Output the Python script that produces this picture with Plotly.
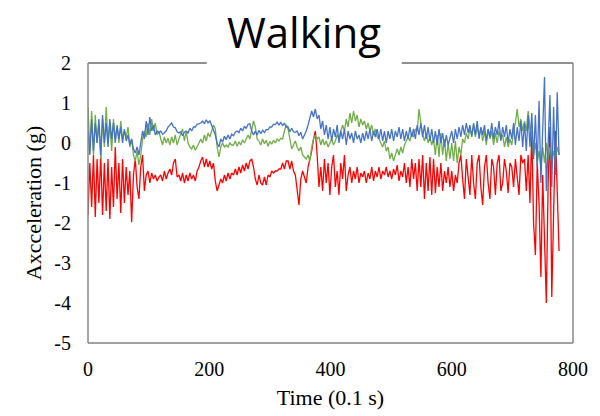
import plotly.graph_objects as go

time = list(range(0, 780, 3))

red = [
    -1.8, -0.5, -1.6, -0.3, -1.85, -0.4, -1.5, -0.3, -1.8, -0.5,
    -1.7, -0.4, -1.9, -0.6, -1.6, -0.1, -1.4, -0.5, -1.75, -0.4,
    -1.5, -0.6, -1.3, -0.7, -1.98, -0.8, -0.4, -1.1, -1.4, -0.6,
    -0.3, -1.2, -0.8, -0.7, -1.0, -0.75, -0.9, -0.8, -0.95, -0.85,
    -0.8, -0.95, -0.7, -0.9, -0.75, -0.65, -0.8, -0.5, -0.4, -0.85,
    -0.8, -0.95, -0.75, -1.0, -0.8, -0.95, -0.75, -0.9, -0.8, -0.95,
    -0.7, -0.6, -0.45, -0.35, -0.6, -0.4, -0.6, -0.45, -0.65, -0.5,
    -0.95, -1.2, -1.05, -0.9, -1.0, -0.8, -0.95, -0.75, -0.9, -0.75,
    -0.8, -0.65, -0.8, -0.6, -0.75, -0.55, -0.7, -0.5, -0.65, -0.45,
    -0.4, -0.6, -0.9, -1.05, -0.8, -1.0, -1.05, -0.85, -1.05, -0.8,
    -0.85, -0.7, -0.75, -0.7, -0.7, -0.65, -0.65, -0.5, -0.65, -0.45,
    -0.45, -0.65, -0.45, -0.7, -0.8, -1.2, -1.55, -0.9, -0.7, -0.85,
    -1.0, -0.6, -0.4, -0.2, 0.1, 0.3, -0.3, -1.1, -0.6, -1.2,
    -0.4, -1.0, -0.5, -1.3, -0.6, -0.3, -1.1, -0.7, -1.3, -0.5,
    -0.9, -0.3, -1.2, -0.8, -0.6, -1.0, -0.7, -0.9, -0.6, -1.0,
    -0.75, -0.85, -0.7, -1.0, -0.75, -0.9, -0.6, -0.95, -0.7, -0.85,
    -0.6, -0.9, -0.7, -0.8, -0.6, -0.85, -0.7, -0.9, -0.65, -0.8,
    -0.55, -0.95, -0.7, -0.85, -0.5, -1.0, -0.6, -1.1, -0.4, -0.9,
    -0.5, -1.2, -0.4, -1.1, -0.3, -1.4, -0.5, -1.2, -0.35, -1.3,
    -0.4, -1.25, -0.6, -1.1, -0.5, -1.2, -0.7, -1.0, -0.6, -1.1,
    -0.7, -1.2, -0.8, -1.0, -0.5, -0.3, -0.9, -1.4, -0.4, -0.9,
    -1.3, -0.3, -1.0, -1.4, -0.5, -0.3, -1.1, -1.55, -0.6, -0.3,
    -1.0, -1.4, -0.4, -0.6, -1.3, -0.5, -0.3, -1.2, -1.0, -0.4,
    -0.7, -1.25, -0.5, -0.6, -1.1, -0.4, -0.9, -1.3, -0.3, -0.5,
    -0.4, -1.2, -0.3, -1.5, 0.3, -2.0, -2.8, -0.5, -1.5, -3.35,
    -0.8, -2.5, -4.0, -1.0, 0.4, -3.85, -1.5, 0.3, -1.2, -2.7,
]

green = [
    0.9, -0.2, 0.8, -0.3, 0.7, 0.0, 0.5, -0.4, 0.6, -0.1,
    0.9, 0.0, 0.5, -0.2, 0.6, 0.1, 0.4, 0.0, 0.55, 0.1,
    0.3, 0.15, 0.4, -0.1, 0.1, -0.3, -0.45, -0.2, -0.55, -0.3,
    0.1, 0.3, 0.15, 0.5, 0.2, 0.6, 0.3, 0.5, 0.2, 0.3,
    0.1, -0.05, 0.15, 0.0, 0.12, -0.05, 0.15, 0.0, 0.2, -0.05,
    0.1, 0.25, 0.35, 0.05, 0.3, 0.0, -0.1, -0.15, -0.05, -0.18,
    -0.1, 0.0, 0.1, 0.0, 0.2, 0.05, 0.25, 0.15, 0.3, 0.45,
    0.35, -0.1, -0.35, -0.1, 0.0, -0.1, -0.05, -0.1, 0.0, -0.05,
    -0.05, 0.05, -0.08, 0.03, -0.05, 0.08, 0.0, 0.12, 0.2, 0.1,
    0.3, 0.55, 0.4, 0.1, 0.05, -0.05, 0.1, -0.02, 0.07, -0.08,
    0.04, -0.03, 0.07, 0.0, 0.1, 0.05, 0.12, 0.1, 0.3, 0.45,
    0.35, 0.05, -0.15, -0.05, 0.05, -0.1, -0.2, -0.1, -0.3, -0.35,
    -0.4, -0.3, -0.45, -0.1, 0.1, 0.2, 0.1, 0.15, -0.05, 0.1,
    -0.05, 0.05, -0.1, 0.0, 0.1, -0.05, 0.05, 0.2, 0.1, 0.3,
    0.45, 0.3, 0.6, 0.4, 0.75, 0.5, 0.8, 0.55, 0.7, 0.4,
    0.6, 0.45, 0.55, 0.35, 0.5, 0.3, 0.45, 0.2, 0.35, 0.15,
    0.1, 0.0, -0.1, 0.05, -0.2, -0.1, -0.4, -0.25, -0.45, -0.3,
    -0.15, -0.3, -0.1, -0.25, -0.05, 0.05, 0.15, 0.05, 0.25, 0.15,
    0.35, 0.3, 0.85, 0.5, 0.2, 0.05, 0.25, 0.0, 0.15, -0.05,
    0.1, -0.3, 0.2, -0.35, 0.25, -0.3, 0.1, -0.45, 0.0, -0.4,
    0.0, -0.45, 0.05, -0.5, -0.1, -0.3, 0.1, 0.0, 0.25, 0.1,
    0.35, 0.2, 0.45, 0.15, 0.4, 0.2, 0.35, 0.05, 0.3, -0.05,
    0.35, 0.1, 0.3, -0.05, 0.25, 0.0, 0.3, 0.1, 0.2, -0.1,
    0.15, -0.1, 0.1, -0.05, 0.3, 0.5, 0.85, 0.4, 0.6, 0.3,
    0.55, 0.3, 0.8, 0.4, 0.2, -0.3, 0.0, -0.5, -0.2, -0.6,
    -0.1, -0.5, 0.0, -0.4, -0.1, -0.5, -0.2, -0.4, -0.1, -0.3,
]

blue = [
    0.3, -0.3, 0.6, -0.2, 0.5, 0.0, 0.6, -0.3, 0.7, 0.0,
    0.5, -0.1, 0.6, 0.1, 0.5, 0.0, 0.45, 0.1, 0.4, 0.0,
    0.35, 0.05, 0.2, -0.05, 0.1, -0.15, -0.25, -0.1, -0.3, 0.0,
    0.3, 0.1, 0.55, 0.2, 0.65, 0.3, 0.45, 0.2, 0.3, 0.25,
    0.3, 0.22, 0.25, 0.3, 0.4, 0.45, 0.5, 0.4, 0.38, 0.28,
    0.25, 0.28, 0.18, 0.27, 0.3, 0.25, 0.37, 0.3, 0.4, 0.4,
    0.47, 0.48, 0.5, 0.55, 0.48, 0.58, 0.5, 0.56, 0.45, 0.35,
    0.2, 0.0, -0.1, 0.1, 0.02, 0.17, 0.08, 0.2, 0.1, 0.22,
    0.18, 0.27, 0.3, 0.26, 0.37, 0.3, 0.42, 0.36, 0.47, 0.48,
    0.3, 0.2, 0.3, 0.2, 0.32, 0.23, 0.32, 0.26, 0.34, 0.33,
    0.4, 0.4, 0.47, 0.46, 0.52, 0.45, 0.52, 0.43, 0.5, 0.4,
    0.4, 0.28, 0.37, 0.28, 0.27, 0.3, 0.18, 0.27, 0.1, 0.2,
    0.3, 0.45, 0.6, 0.8, 0.65, 0.85, 0.6, 0.7, 0.35, 0.55,
    0.2, 0.45, 0.1, 0.4, 0.05, 0.35, 0.15, 0.45, 0.0, 0.3,
    0.1, 0.35, -0.05, 0.3, 0.1, 0.25, 0.0, 0.3, 0.1, 0.2,
    0.0, 0.25, 0.05, 0.3, 0.1, 0.35, 0.05, 0.3, 0.15, 0.35,
    0.1, 0.35, 0.05, 0.3, 0.0, 0.3, 0.1, 0.35, 0.05, 0.3,
    0.15, 0.4, 0.1, 0.35, 0.05, 0.3, 0.1, 0.4, 0.15, 0.35,
    0.1, 0.45, 0.2, 0.5, 0.15, 0.45, 0.1, 0.4, 0.05, 0.35,
    0.0, 0.3, -0.05, 0.35, 0.0, 0.25, -0.1, 0.2, -0.05, 0.15,
    0.3, 0.0, 0.35, 0.1, 0.4, 0.15, 0.45, 0.2, 0.5, 0.25,
    0.45, 0.15, 0.5, 0.2, 0.55, 0.1, 0.4, 0.2, 0.45, 0.05,
    0.35, 0.15, 0.5, 0.1, 0.4, 0.2, 0.55, 0.05, 0.4, 0.15,
    0.45, 0.0, 0.35, 0.1, 0.5, -0.05, 0.4, 0.05, 0.55, -0.1,
    0.5, -0.2, 0.7, -0.1, 0.75, -0.4, 0.7, -0.6, 1.05, -1.0,
    0.5, 1.65, -1.2, 0.2, 1.2, -1.1, 0.9, -0.8, 1.27, -0.3,
]

x_ticks = [0, 200, 400, 600, 800]
y_ticks = [2, 1, 0, -1, -2, -3, -4, -5]
y_tick_text = ["2", "1", "0", "-1", "-2", "-3", "-4", "-5"]

assert len(red) == len(green) == len(blue) == len(time)

fig = go.Figure()
fig.add_trace(go.Scatter(x=time, y=red, mode="lines", line=dict(color="#FF0000", width=1.3), name="x"))
fig.add_trace(go.Scatter(x=time, y=green, mode="lines", line=dict(color="#70AD47", width=1.3), name="y"))
fig.add_trace(go.Scatter(x=time, y=blue, mode="lines", line=dict(color="#4472C4", width=1.3), name="z"))

serif = "Liberation Serif, Times New Roman, serif"

fig.update_layout(
    width=600, height=416,
    margin=dict(l=88, r=27, t=63, b=73),
    paper_bgcolor="white", plot_bgcolor="white",
    showlegend=False,
    xaxis=dict(range=[0, 800], tickvals=x_ticks, showgrid=False, zeroline=False,
               showline=False, ticks="", ticklabelstandoff=12,
               tickfont=dict(family=serif, size=20, color="black"),
               title=dict(text="Time (0.1 s)", font=dict(family=serif, size=22, color="black"), standoff=10)),
    yaxis=dict(range=[-5, 2], tickvals=y_ticks, ticktext=y_tick_text, showgrid=False, zeroline=False,
               showline=False, ticks="", ticklabelstandoff=16,
               tickfont=dict(family=serif, size=20, color="black"),
               title=dict(text="Axcceleration (g)", font=dict(family=serif, size=22, color="black"), standoff=6)),
)

line_dark = dict(color="#222222", width=1)
line_gray = dict(color="#888888", width=1.5)
shapes = [
    dict(type="line", xref="paper", yref="paper", x0=0, x1=0.245, y0=1, y1=1, line=line_dark),
    dict(type="line", xref="paper", yref="paper", x0=0.647, x1=1, y0=1, y1=1, line=line_dark),
    dict(type="line", xref="paper", yref="paper", x0=0, x1=1, y0=0, y1=0, line=dict(color="#444444", width=1)),
    dict(type="line", xref="paper", yref="paper", x0=0, x1=0, y0=0, y1=1, line=line_gray),
    dict(type="line", xref="paper", yref="paper", x0=1, x1=1, y0=0, y1=1, line=line_gray),
]
fig.update_layout(shapes=shapes)

fig.add_annotation(text="Walking", xref="paper", yref="paper", x=0.446, y=1.0,
                   xanchor="center", yanchor="bottom", yshift=1, showarrow=False,
                   font=dict(family="Open Sans, sans-serif", size=42, color="black"))

fig.write_html("out.html")
